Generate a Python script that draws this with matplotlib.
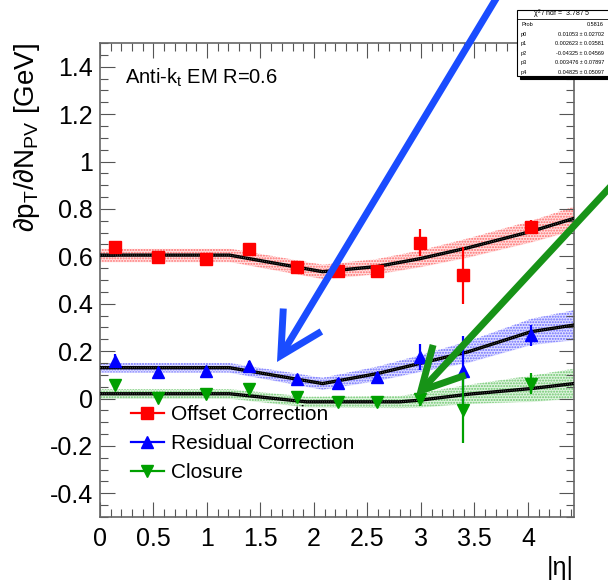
import matplotlib; matplotlib.use("Agg")
import matplotlib.pyplot as plt
import numpy as np
from matplotlib.ticker import MultipleLocator, FuncFormatter
from matplotlib.patches import FancyArrowPatch, Rectangle
from matplotlib.lines import Line2D

plt.rcParams.update({"font.family": ["Liberation Sans", "DejaVu Sans"],
                     "mathtext.fontset": "custom", "mathtext.rm": "Liberation Sans",
                     "mathtext.it": "Liberation Sans", "axes.unicode_minus": False,
                     "hatch.linewidth": 1.0})
RED = "#ff0000"; BLUE = "#0000ff"; GREEN = "#00a000"

# measured points
eta = [0.14, 0.54, 0.99, 1.39, 1.84, 2.22, 2.59, 2.99, 3.39, 4.03]
offset = [0.64, 0.598, 0.588, 0.63, 0.556, 0.537, 0.537, 0.658, 0.52, 0.724]
offset_err = [0.02, 0.015, 0.02, 0.02, 0.015, 0.02, 0.02, 0.056, 0.12, 0.03]
resid = [0.157, 0.11, 0.115, 0.138, 0.081, 0.067, 0.092, 0.176, 0.115, 0.267]
resid_err = [0.03, 0.01, 0.015, 0.02, 0.015, 0.02, 0.02, 0.055, 0.15, 0.045]
closure = [0.056, 0.003, 0.02, 0.042, 0.007, -0.014, -0.014, 0.0, -0.049, 0.063]
closure_err = [0.02, 0.015, 0.015, 0.02, 0.015, 0.02, 0.02, 0.03, 0.14, 0.045]

# fit curves (knots) and band half widths
fit_x = [0.0, 1.21, 2.08, 2.59, 2.99, 3.44, 4.03, 4.43]
fit_off = [0.605, 0.605, 0.535, 0.557, 0.59, 0.636, 0.705, 0.76]
band_off = [0.028, 0.028, 0.03, 0.032, 0.035, 0.04, 0.045, 0.05]
fit_res = [0.13, 0.13, 0.063, 0.105, 0.148, 0.197, 0.282, 0.31]
band_res = [0.02, 0.02, 0.025, 0.03, 0.035, 0.045, 0.055, 0.063]
fit_clo_x = [0.0, 1.21, 1.93, 2.8, 2.99, 3.44, 4.03, 4.43]
fit_clo = [0.02, 0.02, -0.014, -0.014, -0.007, 0.018, 0.042, 0.063]
band_clo = [0.02, 0.02, 0.022, 0.025, 0.03, 0.04, 0.055, 0.063]

series_labels = ["Offset Correction", "Residual Correction", "Closure"]

fig = plt.figure(figsize=(6.08, 5.87), dpi=100)
ax = fig.add_axes([100/608, 1-517/587, 474/608, 474/587])

for fx, fy, bw, c in [(fit_x, fit_off, band_off, RED), (fit_x, fit_res, band_res, BLUE),
                      (fit_clo_x, fit_clo, band_clo, GREEN)]:
    fy = np.array(fy); bw = np.array(bw)
    ax.fill_between(fx, fy-bw, fy+bw, color=c, alpha=0.12, lw=0)
    ax.fill_between(fx, fy-bw, fy+bw, facecolor="none", edgecolor=c, hatch="......", lw=0, alpha=0.5)
    ax.plot(fx, fy, color="black", lw=2.4, zorder=3)
    ax.plot(fx, fy, color="#888888", lw=0.7, ls=(0, (0.6, 1.6)), zorder=3)

handles = []
for y, e, m, c, lab in [(offset, offset_err, "s", RED, series_labels[0]),
                        (resid, resid_err, "^", BLUE, series_labels[1]),
                        (closure, closure_err, "v", GREEN, series_labels[2])]:
    ax.errorbar(eta, y, yerr=e, fmt=m, color=c, ms=8, lw=1.6, capsize=0, zorder=4)
    handles.append(Line2D([], [], color=c, marker=m, ms=8, lw=1.6, label=lab))

ax.set_xlim(0, 4.43); ax.set_ylim(-0.5, 1.5)
ax.xaxis.set_major_locator(MultipleLocator(0.5)); ax.xaxis.set_minor_locator(MultipleLocator(0.1))
ax.yaxis.set_major_locator(MultipleLocator(0.2)); ax.yaxis.set_minor_locator(MultipleLocator(0.05))
fmt = FuncFormatter(lambda v, p: f"{v:g}" if abs(v) > 1e-9 else "0")
ax.xaxis.set_major_formatter(fmt); ax.yaxis.set_major_formatter(fmt)
ax.tick_params(which="both", direction="in", top=True, right=True, width=0.8, color="#555555")
ax.tick_params(which="major", length=10.5, labelsize=18)
ax.tick_params(which="minor", length=5.5)
ax.tick_params(axis="x", pad=7); ax.tick_params(axis="y", pad=5)
for s in ax.spines.values():
    s.set_color("#666666"); s.set_linewidth(1.2)

ax.set_ylabel(r"$\partial$p$_{\rm T}$/$\partial$N$_{\rm PV}$ [GeV]", fontsize=20, loc="top")
ax.yaxis.set_label_coords(-0.122, 1.0)
ax.set_xlabel("|η|", fontsize=18, loc="right")
ax.xaxis.set_label_coords(1.0, -0.082)

ax.text(0.053, 0.926, r"Anti-k$_{\rm t}$ EM R=0.6", transform=ax.transAxes, fontsize=14.5, va="center")

ax.legend(handles=handles, loc="upper left", bbox_to_anchor=(0.065, 0.236), frameon=False, fontsize=15,
          handlelength=1.6, handletextpad=0.35, labelspacing=0.48, borderpad=0, borderaxespad=0)

# arrows
for tail, head, c in [((497/608, 1.005), (277/608, 1-362/587), "#1a4cff"),
                      ((1.005, 1-186/587), (416/608, 1-396/587), "#179317")]:
    fig.add_artist(FancyArrowPatch(tail, head, transform=fig.transFigure,
                                   arrowstyle="->,head_length=1.5,head_width=0.8", mutation_scale=20,
                                   color=c, lw=5, capstyle="butt", joinstyle="miter",
                                   shrinkA=0, shrinkB=0, clip_on=False))

# fit statistics box
bx0, by0, bx1, by1 = 517/608, 1-76/587, 1.02, 1-10/587
fig.add_artist(Rectangle((bx0+3/608, by0-3/587), bx1-bx0, by1-by0, transform=fig.transFigure,
                         facecolor="black", edgecolor="black", lw=0.8))
fig.add_artist(Rectangle((bx0, by0), bx1-bx0, by1-by0, transform=fig.transFigure,
                         facecolor="white", edgecolor="black", lw=0.8))
fig.add_artist(Line2D([bx0, bx1], [1-19/587]*2, transform=fig.transFigure, color="black", lw=0.6))
fig.text(562/608, 1-14.5/587, r"$\chi^2$ / ndf =  3.78 / 5", fontsize=5, ha="center", va="center")
stat_names = ["Prob", "p0", "p1", "p2", "p3", "p4"]
stat_vals = ["0.5816", "0.01053 \u00b1 0.02702", "0.002623 \u00b1 0.03581", "-0.04325 \u00b1 0.04569",
             "0.003476 \u00b1 0.07897", "0.04825 \u00b1 0.05097"]
for i, (n, v) in enumerate(zip(stat_names, stat_vals)):
    yy = 1-(24.5+9.6*i)/587
    fig.text(521/608, yy, n, fontsize=4, va="center")
    fig.text(604/608, yy, v, fontsize=4, va="center", ha="right")

fig.savefig("out.png", dpi=100)
